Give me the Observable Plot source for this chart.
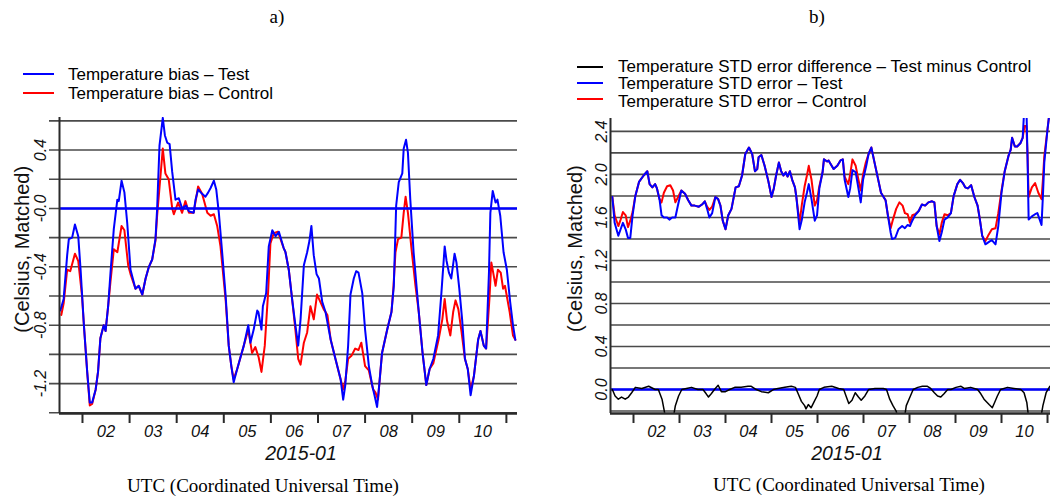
<!DOCTYPE html>
<html><head><meta charset="utf-8">
<script src="https://cdn.jsdelivr.net/npm/d3@7"></script>
<script src="https://cdn.jsdelivr.net/npm/@observablehq/plot@0.6"></script>
<style>
body{margin:0;background:#fff;}
#wrap{position:relative;width:1050px;height:496px;overflow:hidden;font-family:"Liberation Sans",Arial,sans-serif;color:#000;}
.abs{position:absolute;white-space:nowrap;}
.serif{font-family:"Liberation Serif","Times New Roman",serif;font-size:19px;line-height:1.1;transform:translate(-50%,-50%);}
.leg{font-size:17px;line-height:1;transform:translateY(-50%);}
.sw{position:absolute;height:2px;}
#wrap svg{position:absolute;top:0;}
</style></head><body><div id="wrap"></div>
<script>
// ---------- data (day of January 2015, value in Celsius) ----------
const biasTestDay = [1.53,1.60,1.675,1.71,1.78,1.84,1.91,1.96,2.03,2.10,2.155,2.205,2.28,2.33,2.38,2.45,2.49,2.545,2.595,2.665,2.74,2.77,2.83,2.89,2.95,3.02,3.125,3.195,3.27,3.34,3.41,3.48,3.55,3.585,3.635,3.705,3.75,3.80,3.85,3.905,3.975,4.045,4.115,4.20,4.26,4.36,4.40,4.455,4.54,4.61,4.67,4.72,4.79,4.84,4.895,4.965,5.04,5.105,5.16,5.21,5.285,5.355,5.425,5.52,5.565,5.635,5.71,5.735,5.80,5.83,5.90,5.955,6.03,6.10,6.17,6.27,6.31,6.38,6.45,6.52,6.58,6.63,6.70,6.77,6.82,6.86,6.91,6.97,7.02,7.09,7.16,7.27,7.37,7.48,7.535,7.58,7.64,7.69,7.76,7.81,7.86,7.94,8.00,8.08,8.15,8.20,8.255,8.30,8.36,8.47,8.56,8.61,8.66,8.715,8.79,8.82,8.87,8.91,8.96,9.03,9.14,9.22,9.30,9.37,9.45,9.55,9.62,9.69,9.73,9.78,9.83,9.90,9.94,10.00,10.06,10.12,10.18,10.24,10.31,10.40,10.45,10.52,10.57,10.63,10.66,10.71,10.77,10.81,10.87,10.94,11.01,11.08,11.14,11.19];
const biasTestVal = [-0.70,-0.62,-0.32,-0.21,-0.20,-0.11,-0.19,-0.42,-0.80,-1.12,-1.33,-1.33,-1.24,-1.12,-0.89,-0.80,-0.84,-0.67,-0.44,-0.14,0.06,0.05,0.19,0.11,-0.10,-0.42,-0.55,-0.53,-0.59,-0.48,-0.40,-0.35,-0.21,0.0,0.43,0.62,0.50,0.45,0.44,0.25,0.06,0.07,0.0,0.02,-0.02,-0.03,0.06,0.13,0.10,0.08,0.11,0.14,0.19,0.13,-0.03,-0.30,-0.60,-0.94,-1.08,-1.19,-1.10,-1.02,-0.94,-0.80,-0.92,-0.83,-0.70,-0.71,-0.83,-0.67,-0.58,-0.26,-0.15,-0.19,-0.16,-0.27,-0.30,-0.42,-0.62,-0.80,-0.94,-0.76,-0.39,-0.30,-0.22,-0.12,-0.32,-0.45,-0.48,-0.64,-0.71,-0.90,-1.03,-1.17,-1.31,-1.21,-0.94,-0.59,-0.48,-0.43,-0.44,-0.58,-0.83,-1.08,-1.21,-1.28,-1.36,-1.21,-0.99,-0.83,-0.71,-0.53,0.02,0.18,0.24,0.41,0.47,0.38,0.06,-0.30,-0.71,-0.99,-1.21,-1.10,-1.03,-0.87,-0.58,-0.26,-0.36,-0.44,-0.48,-0.31,-0.37,-0.55,-0.76,-1.03,-1.10,-1.28,-1.15,-0.90,-0.84,-0.94,-0.96,-0.44,-0.03,0.12,0.04,0.06,-0.05,-0.30,-0.42,-0.64,-0.80,-0.90];

const biasCtrlDay = [1.55,1.60,1.675,1.74,1.84,1.91,1.99,2.03,2.10,2.155,2.205,2.28,2.33,2.38,2.45,2.49,2.545,2.595,2.665,2.74,2.83,2.89,2.97,3.02,3.125,3.195,3.27,3.34,3.41,3.48,3.55,3.585,3.655,3.705,3.76,3.83,3.905,3.94,4.03,4.115,4.185,4.26,4.36,4.455,4.54,4.65,4.72,4.79,4.86,4.93,5.04,5.105,5.16,5.21,5.285,5.355,5.425,5.52,5.60,5.67,5.74,5.80,5.87,5.94,5.99,6.06,6.15,6.27,6.31,6.38,6.45,6.52,6.58,6.63,6.70,6.77,6.84,6.91,6.98,7.05,7.12,7.20,7.27,7.37,7.48,7.535,7.58,7.64,7.71,7.79,7.86,7.92,8.00,8.08,8.17,8.22,8.275,8.30,8.36,8.47,8.56,8.60,8.645,8.70,8.77,8.82,8.86,8.91,8.98,9.07,9.14,9.22,9.30,9.37,9.45,9.56,9.64,9.69,9.74,9.81,9.87,9.92,9.98,10.05,10.12,10.18,10.24,10.31,10.40,10.45,10.52,10.57,10.64,10.68,10.72,10.77,10.82,10.88,10.93,10.97,11.07,11.14,11.19];
const biasCtrlVal = [-0.73,-0.65,-0.42,-0.43,-0.31,-0.36,-0.60,-0.80,-1.12,-1.35,-1.34,-1.24,-1.12,-0.89,-0.80,-0.84,-0.67,-0.50,-0.28,-0.30,-0.12,-0.15,-0.39,-0.45,-0.55,-0.53,-0.59,-0.48,-0.40,-0.35,-0.22,-0.05,0.22,0.41,0.24,0.20,0.0,-0.04,0.04,-0.03,0.05,-0.03,-0.03,0.15,0.10,-0.03,-0.05,-0.04,-0.12,-0.26,-0.63,-0.94,-1.08,-1.17,-1.10,-1.02,-0.94,-0.83,-0.99,-0.95,-1.02,-1.12,-0.94,-0.58,-0.24,-0.17,-0.16,-0.27,-0.30,-0.42,-0.62,-0.83,-1.03,-1.07,-0.92,-0.85,-0.67,-0.76,-0.59,-0.64,-0.69,-0.73,-0.90,-1.03,-1.17,-1.24,-1.18,-1.03,-1.01,-0.96,-0.97,-0.92,-1.08,-1.11,-1.24,-1.26,-1.31,-1.21,-0.99,-0.83,-0.71,-0.55,-0.30,-0.21,-0.20,-0.03,0.08,-0.03,-0.26,-0.53,-0.71,-0.99,-1.21,-1.10,-1.06,-0.90,-0.76,-0.62,-0.77,-0.87,-0.71,-0.63,-0.69,-0.85,-1.03,-1.10,-1.24,-1.15,-0.90,-0.84,-0.94,-0.96,-0.62,-0.37,-0.44,-0.53,-0.42,-0.44,-0.55,-0.53,-0.71,-0.87,-0.90];

const stdTestDay = [1.54,1.59,1.67,1.72,1.77,1.83,1.88,1.93,1.98,2.04,2.12,2.22,2.30,2.35,2.41,2.47,2.51,2.565,2.61,2.66,2.73,2.78,2.84,2.91,2.97,3.04,3.12,3.19,3.26,3.33,3.42,3.49,3.55,3.60,3.65,3.71,3.78,3.84,3.89,3.94,4.00,4.06,4.13,4.22,4.29,4.36,4.43,4.51,4.58,4.64,4.69,4.72,4.78,4.85,4.93,5.00,5.05,5.10,5.16,5.21,5.26,5.31,5.35,5.40,5.45,5.51,5.54,5.61,5.66,5.72,5.77,5.81,5.87,5.94,5.99,6.04,6.11,6.14,6.21,6.24,6.35,6.43,6.50,6.55,6.59,6.67,6.71,6.76,6.83,6.89,6.94,6.99,7.06,7.11,7.17,7.24,7.31,7.38,7.48,7.53,7.59,7.62,7.69,7.76,7.84,7.90,7.96,8.01,8.06,8.12,8.20,8.27,8.34,8.41,8.49,8.54,8.59,8.65,8.70,8.76,8.83,8.90,8.96,9.04,9.10,9.16,9.21,9.27,9.34,9.41,9.48,9.53,9.58,9.65,9.72,9.79,9.87,9.93,10.00,10.07,10.15,10.20,10.23,10.29,10.34,10.41,10.46,10.50,10.54,10.565,10.59,10.66,10.73,10.78,10.83,10.87,10.90,10.93,11.00,11.05];
const stdTestVal = [1.79,1.55,1.43,1.49,1.55,1.49,1.41,1.41,1.62,1.80,1.93,1.99,2.03,1.91,1.88,1.91,1.87,1.77,1.62,1.60,1.60,1.58,1.60,1.60,1.72,1.85,1.82,1.76,1.71,1.71,1.70,1.72,1.75,1.68,1.60,1.64,1.79,1.77,1.71,1.57,1.49,1.62,1.68,1.88,1.89,1.99,2.19,2.25,2.19,2.03,2.05,2.16,2.18,2.08,1.94,1.79,1.87,1.99,2.11,2.03,1.99,2.02,1.98,2.03,1.95,1.88,1.79,1.49,1.58,1.74,1.83,1.91,1.77,1.57,1.62,1.87,2.02,2.14,2.12,2.13,2.05,2.08,2.13,2.14,1.95,1.79,1.87,2.04,2.02,1.87,1.74,1.95,2.08,2.19,2.25,2.11,1.97,1.83,1.76,1.62,1.46,1.40,1.41,1.49,1.52,1.50,1.53,1.52,1.57,1.62,1.66,1.72,1.71,1.74,1.75,1.74,1.52,1.38,1.46,1.58,1.60,1.64,1.80,1.91,1.95,1.92,1.88,1.87,1.90,1.79,1.71,1.58,1.43,1.35,1.37,1.39,1.35,1.52,1.83,2.03,2.17,2.23,2.34,2.26,2.26,2.29,2.34,2.65,2.65,2.17,1.58,1.61,1.63,1.64,1.58,1.53,1.80,2.11,2.42,2.60];

const stdCtrlDay = [1.54,1.59,1.67,1.72,1.77,1.83,1.88,1.93,1.98,2.04,2.12,2.22,2.30,2.35,2.41,2.47,2.51,2.565,2.61,2.66,2.73,2.80,2.86,2.91,2.97,3.04,3.12,3.19,3.26,3.33,3.42,3.49,3.55,3.60,3.65,3.71,3.78,3.84,3.89,3.94,4.00,4.06,4.13,4.22,4.29,4.36,4.43,4.51,4.58,4.64,4.69,4.72,4.78,4.85,4.93,5.00,5.05,5.10,5.16,5.21,5.26,5.31,5.35,5.40,5.45,5.51,5.54,5.61,5.66,5.72,5.77,5.81,5.87,5.94,5.99,6.04,6.11,6.14,6.21,6.24,6.35,6.43,6.50,6.55,6.59,6.67,6.71,6.76,6.83,6.89,6.94,6.99,7.05,7.11,7.17,7.24,7.31,7.38,7.48,7.53,7.59,7.64,7.71,7.78,7.85,7.90,7.96,8.01,8.06,8.12,8.20,8.27,8.34,8.41,8.49,8.54,8.59,8.65,8.70,8.76,8.83,8.90,8.96,9.04,9.10,9.16,9.21,9.27,9.34,9.41,9.48,9.53,9.58,9.65,9.72,9.79,9.87,9.93,10.00,10.07,10.15,10.20,10.23,10.29,10.34,10.41,10.46,10.50,10.54,10.565,10.59,10.66,10.73,10.80,10.87,10.90,10.93,11.00,11.05];
const stdCtrlVal = [1.79,1.62,1.52,1.58,1.65,1.62,1.51,1.57,1.65,1.80,1.93,1.99,2.03,1.91,1.88,1.91,1.87,1.77,1.74,1.83,1.89,1.90,1.85,1.74,1.79,1.85,1.82,1.76,1.71,1.71,1.70,1.72,1.75,1.70,1.67,1.70,1.79,1.77,1.71,1.57,1.49,1.62,1.68,1.88,1.89,1.99,2.19,2.25,2.19,2.03,2.05,2.16,2.18,2.08,1.94,1.79,1.87,1.99,2.11,2.03,1.99,2.02,1.98,2.03,1.95,1.88,1.79,1.55,1.72,1.89,1.99,2.08,1.95,1.71,1.76,1.89,2.02,2.14,2.12,2.13,2.05,2.08,2.13,2.14,1.98,1.91,2.00,2.14,2.08,1.95,1.85,2.00,2.11,2.19,2.25,2.11,1.97,1.83,1.76,1.62,1.50,1.58,1.68,1.74,1.71,1.64,1.63,1.55,1.62,1.63,1.66,1.72,1.71,1.74,1.75,1.74,1.52,1.44,1.55,1.63,1.62,1.64,1.80,1.91,1.95,1.92,1.88,1.87,1.90,1.79,1.71,1.58,1.43,1.38,1.44,1.49,1.50,1.64,1.85,2.03,2.17,2.23,2.34,2.26,2.26,2.29,2.34,2.45,2.45,2.20,1.79,1.88,1.92,1.83,1.77,1.95,2.17,2.42,2.60];

const stdDiffDay = [1.54,1.60,1.67,1.74,1.82,1.89,1.96,2.04,2.18,2.33,2.47,2.54,2.62,2.67,2.72,2.83,2.91,2.98,3.05,3.15,3.26,3.40,3.51,3.58,3.63,3.69,3.76,3.84,3.91,4.00,4.09,4.20,4.34,4.49,4.56,4.67,4.78,4.93,5.04,5.14,5.29,5.43,5.52,5.58,5.65,5.72,5.75,5.80,5.86,5.93,5.99,6.04,6.14,6.31,6.46,6.57,6.62,6.68,6.75,6.82,6.89,6.95,7.03,7.11,7.25,7.43,7.50,7.57,7.64,7.71,7.79,7.86,7.93,8.01,8.08,8.18,8.28,8.39,8.46,8.54,8.61,8.68,8.75,8.83,8.90,9.01,9.12,9.19,9.33,9.48,9.55,9.62,9.73,9.80,9.85,9.91,9.98,10.13,10.27,10.42,10.49,10.55,10.60,10.67,10.82,10.90,10.97,11.05];
const stdDiffVal = [0.0,-0.06,-0.09,-0.07,-0.09,-0.07,-0.03,0.02,0.01,0.03,0.0,0.0,-0.09,-0.20,-0.35,-0.35,-0.15,-0.06,0.0,0.01,0.02,0.0,0.0,-0.04,-0.07,-0.04,0.0,0.04,-0.02,-0.02,0.0,0.02,0.02,0.03,0.03,0.0,-0.02,-0.03,0.0,0.01,0.02,0.03,0.02,-0.04,-0.11,-0.15,-0.18,-0.14,-0.17,-0.11,-0.06,0.0,0.02,0.03,0.01,0.0,-0.06,-0.13,-0.10,-0.03,-0.07,-0.10,-0.06,0.0,0.01,0.01,0.0,-0.09,-0.15,-0.20,-0.35,-0.35,-0.15,-0.07,0.0,0.02,0.03,0.03,0.01,-0.03,-0.06,-0.07,-0.04,0.0,0.0,0.02,0.03,0.01,0.02,0.0,-0.04,-0.09,-0.14,-0.17,-0.12,-0.06,0.0,0.02,0.01,0.0,-0.03,-0.12,-0.30,-0.35,-0.35,-0.15,-0.03,0.03];

const dayTicks = [2,3,4,5,6,7,8,9,10,11];
const dayTickLabels = ["02","03","04","05","06","07","08","09","10"];
const monthLabel = "2015-01";
const biasGrid = [-1.4,-1.2,-1.0,-0.8,-0.6,-0.4,-0.2,0.0,0.2,0.4,0.6];
const biasTickValues = [-1.2,-0.8,-0.4,0.0,0.4];
const biasTickLabels = ["-1.2","-0.8","-0.4","-0.0","0.4"];
const stdGrid = [-0.2,0.0,0.2,0.4,0.6,0.8,1.0,1.2,1.4,1.6,1.8,2.0,2.2,2.4];
const stdTickValues = [0.0,0.4,0.8,1.2,1.6,2.0,2.4];
const stdTickLabels = ["0.0","0.4","0.8","1.2","1.6","2.0","2.4"];

// ---------- helpers ----------
const toDate = d => new Date(Date.UTC(2015,0,1) + (d-1)*864e5);
const rows = (days, vals) => days.map((d,i) => ({t: toDate(d), v: vals[i]}));
const gridColor = "#4a4a4a", axisColor = "#2a2a2a";
const BLUE = "#0000ff", RED = "#ff0000";
const tickFont = {fontStyle: "italic", fontSize: 16, fontFamily: "Liberation Sans, Arial, sans-serif", fill: "#111"};

function panel(o) {
  const [x0, x1] = o.xDom, [y0, y1] = o.yDom;
  const pxPerDay = (o.width - o.ml - o.mr) / (x1 - x0);
  const pxPerUnit = (o.height - o.mt - o.mb) / (y1 - y0);
  return Plot.plot({
    width: o.width, height: o.height,
    marginLeft: o.ml, marginRight: o.mr, marginTop: o.mt, marginBottom: o.mb,
    x: {type: "utc", domain: [toDate(x0), toDate(x1)], axis: null},
    y: {domain: [y0, y1], axis: null},
    style: {background: "transparent", overflow: "visible"},
    marks: [
      Plot.ruleY(o.grid, {y: d => d, x1: () => toDate(x0 - o.gridExt / pxPerDay), x2: () => toDate(x1), stroke: gridColor, strokeWidth: 1.6}),
      ...o.lines.map(s => Plot.line(rows(s.days, s.vals), {x: "t", y: "v", stroke: s.color, strokeWidth: s.width, clip: true})),
      Plot.ruleY([0], {stroke: BLUE, strokeWidth: 2.5}),
      ...o.topLines.map(s => Plot.line(rows(s.days, s.vals), {x: "t", y: "v", stroke: s.color, strokeWidth: s.width, clip: true})),
      Plot.ruleX([toDate(x0)], {stroke: axisColor, strokeWidth: 2}),
      Plot.ruleY([y0], {stroke: axisColor, strokeWidth: 2.5}),
      Plot.ruleX(dayTicks, {x: d => toDate(d), y1: () => y0, y2: () => y0 - 10 / pxPerUnit, stroke: axisColor, strokeWidth: 2}),
      Plot.text(o.tickValues, {y: d => d, text: (d, i) => o.tickLabels[i], frameAnchor: "left", dx: o.tickDx, rotate: -90, textAnchor: "middle", lineAnchor: "middle", ...tickFont}),
      Plot.text(dayTickLabels, {x: (d, i) => toDate(dayTicks[i] + 0.5), text: d => d, frameAnchor: "bottom", dy: 18, textAnchor: "middle", lineAnchor: "middle", ...tickFont, fontSize: 16.5}),
      Plot.text([monthLabel], {x: () => toDate(6.64), text: d => d, frameAnchor: "bottom", dy: 40, textAnchor: "middle", lineAnchor: "middle", ...tickFont, fontSize: 19.5}),
      Plot.text(["(Celsius, Matched)"], {y: () => o.titleY, text: d => d, frameAnchor: "left", dx: o.titleDx, rotate: -90, textAnchor: "middle", lineAnchor: "middle", fontSize: 20, fontFamily: "Liberation Sans, Arial, sans-serif", fill: "#111"})
    ]
  });
}

const left = panel({
  width: 525, height: 496, ml: 59, mr: 8, mt: 117, mb: 83,
  xDom: [1.512, 11.236], yDom: [-1.405, 0.623],
  grid: biasGrid, gridExt: 10,
  lines: [{days: biasCtrlDay, vals: biasCtrlVal, color: RED, width: 2}],
  topLines: [{days: biasTestDay, vals: biasTestVal, color: BLUE, width: 2}],
  tickValues: biasTickValues, tickLabels: biasTickLabels, tickDx: -19,
  titleY: -0.28, titleDx: -37
});
const right = panel({
  width: 525, height: 496, ml: 85, mr: 0, mt: 118, mb: 83,
  xDom: [1.5, 11.065], yDom: [-0.223, 2.52],
  grid: stdGrid, gridExt: 0,
  lines: [{days: stdCtrlDay, vals: stdCtrlVal, color: RED, width: 2}, {days: stdTestDay, vals: stdTestVal, color: BLUE, width: 2}],
  topLines: [{days: stdDiffDay, vals: stdDiffVal, color: "#000", width: 1.5}],
  tickValues: stdTickValues, tickLabels: stdTickLabels, tickDx: -9,
  titleY: 1.31, titleDx: -35
});

const wrap = document.getElementById("wrap");
left.style.left = "0px";
right.style.left = "525px";
wrap.appendChild(left);
wrap.appendChild(right);

function addText(txt, cls, x, y) {
  const d = document.createElement("div");
  d.className = "abs " + cls;
  d.style.left = x + "px"; d.style.top = y + "px";
  d.textContent = txt;
  wrap.appendChild(d);
}
function addSwatch(color, x, y, w) {
  const d = document.createElement("div");
  d.className = "sw";
  d.style.left = x + "px"; d.style.top = (y - 1) + "px"; d.style.width = w + "px"; d.style.background = color;
  wrap.appendChild(d);
}
addText("a)", "serif", 277, 17);
addText("b)", "serif", 817, 17);
addText("UTC (Coordinated Universal Time)", "serif", 263, 486);
addText("UTC (Coordinated Universal Time)", "serif", 849, 485);

const legendA = [["Temperature bias – Test", BLUE], ["Temperature bias – Control", RED]];
legendA.forEach(([t, c], i) => { addSwatch(c, 23, 74 + i * 19, 31); addText(t, "leg", 68, 74 + i * 19); });
const legendB = [["Temperature STD error difference – Test minus Control", "#000"], ["Temperature STD error – Test", BLUE], ["Temperature STD error – Control", RED]];
legendB.forEach(([t, c], i) => { addSwatch(c, 577, 67 + i * 16, 26); addText(t, "leg", 618, 65.5 + i * 17.5); });
</script>
</body></html>
